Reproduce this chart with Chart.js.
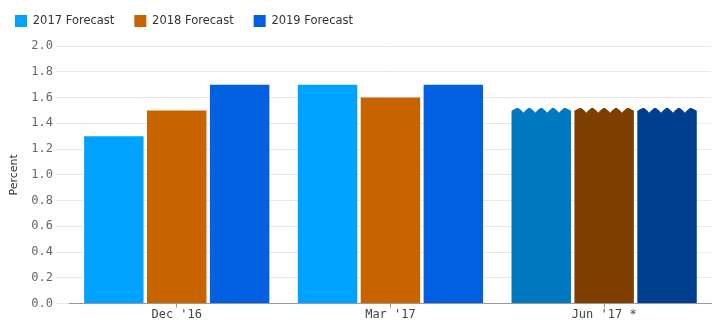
<!DOCTYPE html>
<html>
<head>
<meta charset="utf-8">
<script src="https://cdn.jsdelivr.net/npm/chart.js@4.4.1/dist/chart.umd.min.js"></script>
<style>
  html, body { margin: 0; padding: 0; background: #fff; }
  #wrap { width: 713px; height: 322px; }
</style>
</head>
<body>
<div id="wrap"><canvas id="chartForecast"></canvas></div>
<script>
const categories = ["Dec '16", "Mar '17", "Jun '17 *"];
const seriesNames = ['2017 Forecast', '2018 Forecast', '2019 Forecast'];
const values2017 = [1.3, 1.7, 1.52];
const values2018 = [1.5, 1.6, 1.52];
const values2019 = [1.7, 1.7, 1.52];
// last group is drawn in darker shades with a wavy top
const colors2017 = ['#00a2ff', '#00a2ff', '#0079c1'];
const colors2018 = ['#c86400', '#c86400', '#7d3e00'];
const colors2019 = ['#0060e0', '#0060e0', '#003f8f'];
const legendColors = ['#00a2ff', '#c86400', '#0060e0'];
const wavyIndex = 2;

// cut small v-notches into the top of the last group of bars
const wavyTops = {
  id: 'wavyTops',
  afterDatasetsDraw(chart) {
    const ctx = chart.ctx;
    chart.data.datasets.forEach(function (ds, i) {
      const bar = chart.getDatasetMeta(i).data[wavyIndex];
      if (!bar) return;
      const left = bar.x - bar.width / 2;
      const right = bar.x + bar.width / 2;
      const top = bar.y;
      const n = 5;
      const step = (right - left) / n;
      const depth = 5;
      ctx.save();
      ctx.fillStyle = '#ffffff';
      ctx.beginPath();
      ctx.moveTo(left - 1, top - 1);
      ctx.lineTo(left - 1, top + 3);
      ctx.lineTo(left, top + 3);
      for (let k = 0; k < n; k++) {
        const x0 = left + k * step;
        const yEnd = k < n - 1 ? top + depth : top + 3;
        ctx.quadraticCurveTo(x0 + step * 0.3, top + 0.8, x0 + step / 2, top);
        ctx.quadraticCurveTo(x0 + step * 0.7, top + 0.8, x0 + step, yEnd);
      }
      ctx.lineTo(right + 1, top + 3);
      ctx.lineTo(right + 1, top - 1);
      ctx.closePath();
      ctx.fill();
      ctx.restore();
    });
  }
};

// legend sits further left and a bit further from the plot
const legendPlace = {
  id: 'legendPlace',
  beforeInit(chart) {
    const fit = chart.legend.fit;
    chart.legend.fit = function () {
      fit.bind(chart.legend)();
      this.height += 9;
    };
  },
  afterLayout(chart) {
    chart.legend.left -= 13;
  }
};

document.addEventListener('DOMContentLoaded', function () {
  chartForecast();
});

function chartForecast() {
  const canvas = document.getElementById('chartForecast').getContext('2d');

  new Chart(canvas, {
    type: 'bar',
    data: {
      labels: categories,
      datasets: [
        { label: seriesNames[0], data: values2017, backgroundColor: colors2017 },
        { label: seriesNames[1], data: values2018, backgroundColor: colors2018 },
        { label: seriesNames[2], data: values2019, backgroundColor: colors2019 }
      ]
    },
    options: {
      responsive: true,
      maintainAspectRatio: false,
      animation: false,
      categoryPercentage: 0.883,
      barPercentage: 0.945,
      layout: { padding: { left: 8, right: 2, top: -5, bottom: 0 } },
      plugins: {
        tooltip: { enabled: false },
        legend: {
          position: 'top',
          align: 'start',
          labels: {
            boxWidth: 12,
            boxHeight: 12,
            padding: 20,
            color: '#333',
            font: { family: 'DejaVu Sans', size: 11.5 },
            generateLabels: function (chart) {
              return chart.data.datasets.map(function (ds, i) {
                return {
                  text: ds.label,
                  fillStyle: legendColors[i],
                  strokeStyle: legendColors[i],
                  lineWidth: 0,
                  datasetIndex: i,
                  fontColor: '#333'
                };
              });
            }
          }
        }
      },
      scales: {
        x: {
          offset: true,
          grid: { offset: false, drawOnChartArea: false, drawTicks: true, tickLength: 4, color: '#999' },
          border: { display: true, color: '#999' },
          ticks: { color: '#444', padding: 0, font: { family: 'DejaVu Sans Mono', size: 12 } }
        },
        y: {
          min: 0,
          max: 2,
          grid: { color: '#e8e8e8', tickLength: 14 },
          border: { display: false },
          ticks: {
            stepSize: 0.2,
            color: '#666',
            padding: 3,
            font: { family: 'DejaVu Sans Mono', size: 12 },
            callback: function (v) { return v.toFixed(1); }
          },
          title: {
            display: true,
            text: 'Percent',
            color: '#333',
            padding: { top: 0, bottom: 7 },
            font: { family: 'DejaVu Sans', size: 11 }
          }
        }
      }
    },
    plugins: [wavyTops, legendPlace]
  });
}
</script>
</body>
</html>
